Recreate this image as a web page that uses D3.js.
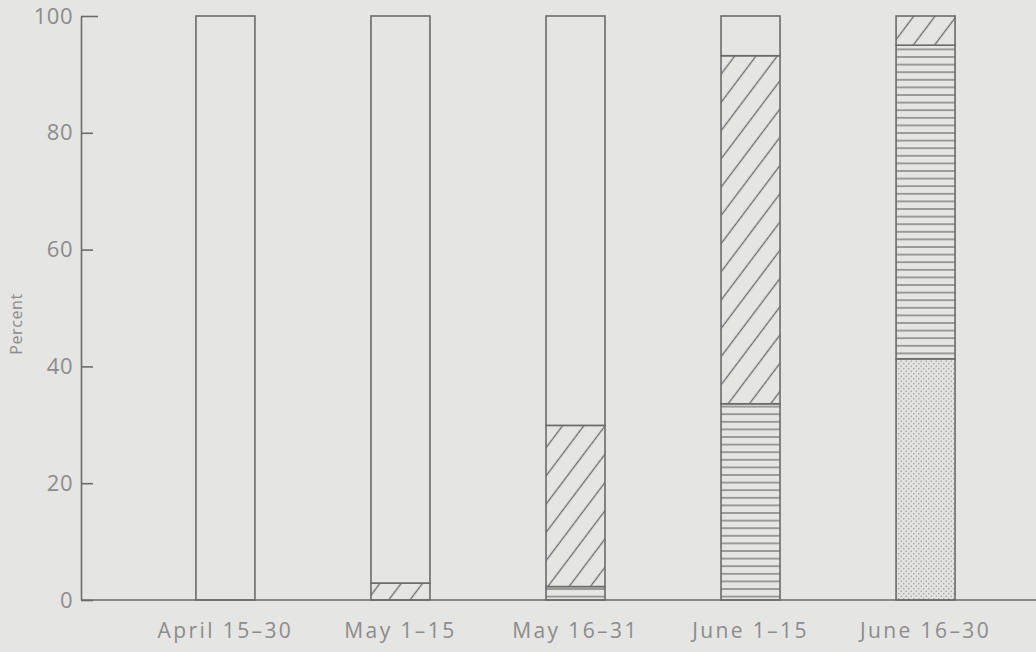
<!DOCTYPE html>
<html>
<head>
<meta charset="utf-8">
<script src="https://cdn.jsdelivr.net/npm/d3@7"></script>
<style>
    html, body { margin: 0; padding: 0; background: #e5e5e3; }
    svg { display: block; }
</style>
</head>
<body>
<div id="chart"></div>
<script>
// periods along the x axis
const categories = ["April 15\u201330", "May 1\u201315", "May 16\u201331", "June 1\u201315", "June 16\u201330"];

// segment values (percent), stacked bottom to top
const dotted     = [0, 0, 0, 0, 41.3];
const horizontal = [0, 0, 2.3, 33.6, 53.7];
const diagonal   = [0, 2.9, 27.6, 59.6, 5.0];
const blank      = [100, 97.1, 70.1, 6.8, 0];

const yTicks = [0, 20, 40, 60, 80, 100];

const series = [
    { key: "dotted", values: dotted },
    { key: "horizontal", values: horizontal },
    { key: "diagonal", values: diagonal },
    { key: "blank", values: blank }
];

const
    width = 1036,
    height = 652,
    ink = "#6b6b6b",
    textColor = "#8c8c8c",
    bg = "#e5e5e3",
    font = "'Open Sans', 'Liberation Sans', sans-serif";

const svg = d3.select("#chart")
    .append("svg")
    .attr("viewBox", [0, 0, width, height])
    .attr("width", width)
    .attr("height", height)
    .style("font-family", font);

svg.append("rect")
    .attr("width", width)
    .attr("height", height)
    .attr("fill", bg);

// hatch patterns
const defs = svg.append("defs");

defs.append("pattern")
    .attr("id", "p-diagonal")
    .attr("patternUnits", "userSpaceOnUse")
    .attr("width", 17)
    .attr("height", 17)
    .attr("patternTransform", "rotate(-53)")
    .call(p => {
        p.append("rect").attr("width", 17).attr("height", 17).attr("fill", bg);
        p.append("line")
            .attr("x1", 0).attr("y1", 8.5).attr("x2", 17).attr("y2", 8.5)
            .attr("stroke", ink).attr("stroke-width", 1.3);
    });

defs.append("pattern")
    .attr("id", "p-horizontal")
    .attr("patternUnits", "userSpaceOnUse")
    .attr("width", 10)
    .attr("height", 7.6)
    .call(p => {
        p.append("rect").attr("width", 10).attr("height", 7.6).attr("fill", bg);
        p.append("line")
            .attr("x1", 0).attr("y1", 3.8).attr("x2", 10).attr("y2", 3.8)
            .attr("stroke", ink).attr("stroke-width", 1.2);
    });

defs.append("pattern")
    .attr("id", "p-dotted")
    .attr("patternUnits", "userSpaceOnUse")
    .attr("width", 5)
    .attr("height", 5)
    .call(p => {
        p.append("rect").attr("width", 5).attr("height", 5).attr("fill", "#e2e2e0");
        p.append("circle").attr("cx", 1.25).attr("cy", 1.25).attr("r", 0.75).attr("fill", "#9a9a9a");
        p.append("circle").attr("cx", 3.75).attr("cy", 3.75).attr("r", 0.75).attr("fill", "#9a9a9a");
    });

const fills = {
    dotted: "url(#p-dotted)",
    horizontal: "url(#p-horizontal)",
    diagonal: "url(#p-diagonal)",
    blank: bg
};

const x = d3.scaleBand()
    .domain(categories)
    .range([138, 1013])
    .paddingInner(0.663)
    .paddingOuter(0.331);

const y = d3.scaleLinear()
    .domain([0, 100])
    .range([600, 16]);

// stack
const rows = categories.map((c, i) => {
    const r = { category: c };
    series.forEach(s => r[s.key] = s.values[i]);
    return r;
});
const stacked = d3.stack().keys(series.map(s => s.key))(rows);

svg.append("g")
    .selectAll("g")
    .data(stacked)
    .join("g")
    .attr("fill", d => fills[d.key])
    .selectAll("rect")
    .data(d => d.filter(v => v[1] - v[0] > 0))
    .join("rect")
    .attr("x", d => x(d.data.category))
    .attr("y", d => y(d[1]))
    .attr("width", x.bandwidth())
    .attr("height", d => y(d[0]) - y(d[1]))
    .attr("stroke", ink)
    .attr("stroke-width", 1.6);

// y axis, ticks pointing inward
const yAxis = svg.append("g")
    .attr("transform", "translate(81,0)")
    .call(d3.axisLeft(y).tickValues(yTicks).tickSizeInner(-12).tickSizeOuter(0).tickPadding(8));
yAxis.select(".domain").attr("stroke", ink).attr("stroke-width", 1.6);
yAxis.selectAll(".tick line").attr("stroke", ink).attr("stroke-width", 1.6);
yAxis.selectAll(".tick")
    .filter(d => d === 100)
    .select("line")
    .attr("x2", 17);
yAxis.selectAll(".tick text")
    .attr("fill", textColor)
    .style("font-size", "22px")
    .style("letter-spacing", "0.5px")
    .style("font-family", font);

// x axis baseline and labels
svg.append("line")
    .attr("x1", 81).attr("x2", width)
    .attr("y1", y(0)).attr("y2", y(0))
    .attr("stroke", ink)
    .attr("stroke-width", 1.6);

svg.append("g")
    .selectAll("text")
    .data(categories)
    .join("text")
    .attr("x", d => x(d) + x.bandwidth() / 2)
    .attr("y", 638)
    .attr("text-anchor", "middle")
    .attr("fill", textColor)
    .style("font-size", "21px")
    .style("letter-spacing", "2.4px")
    .text(d => d);

svg.append("text")
    .attr("transform", "translate(22,324) rotate(-90)")
    .attr("text-anchor", "middle")
    .attr("fill", textColor)
    .style("font-size", "16px")
    .style("letter-spacing", "0.6px")
    .text("Percent");
</script>
</body>
</html>
